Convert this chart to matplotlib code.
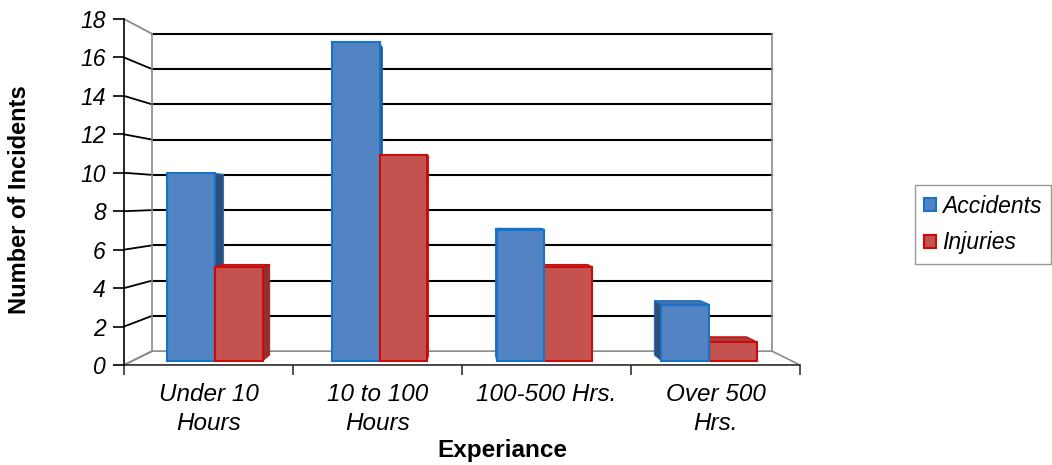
import matplotlib
matplotlib.use("Agg")
import matplotlib.pyplot as plt
from matplotlib.patches import Polygon, Patch

plt.rcParams['font.family'] = ['Liberation Sans', 'DejaVu Sans']

categories = ['Under 10\nHours', '10 to 100\nHours', '100-500 Hrs.', 'Over 500\nHrs.']
accidents = [10, 17, 7, 3]
injuries = [5, 11, 5, 1]
series_names = ['Accidents', 'Injuries']
y_ticks = [0, 2, 4, 6, 8, 10, 12, 14, 16, 18]

# colours: front, edge, side, top
blue = ('#5283C2', '#1872C6', '#2E4D77', '#4673AD')
red = ('#C4534F', '#CC0A0A', '#8A3331', '#A7403D')

# fake perspective (vanishing point in data coords)
VX, VY, K = 2.0, 8.7, 0.083
T0, T1 = 0.3, 0.72
W = 0.29


def proj(x, y, t):
    s = 1 - K * t
    return VX + (x - VX) * s, VY + (y - VY) * s


fig = plt.figure(figsize=(10.52, 4.65), dpi=100)
ax = fig.add_axes([124 / 1052, 100 / 465, 676 / 1052, 346 / 465])
ax.set_xlim(0, 4)
ax.set_ylim(0, 18)
for s in ['top', 'right', 'bottom']:
    ax.spines[s].set_visible(False)
ax.spines['left'].set_color('black')
ax.spines['left'].set_linewidth(1.2)

# floor
fl = [proj(0, 0, 0), proj(4, 0, 0), proj(4, 0, 1), proj(0, 0, 1)]
ax.add_patch(Polygon(fl, closed=True, facecolor='white', edgecolor='#8a8a8a', lw=1.2, zorder=1))
ax.plot([0, 4], [0, 0], color='#333333', lw=1.2, zorder=2, clip_on=False)

# back wall grid + side wall lines
for v in y_ticks:
    bx0, by = proj(0, v, 1)
    bx1, _ = proj(4, v, 1)
    c = '#8a8a8a' if v in (0, 18) else 'black'
    if v > 0:
        ax.plot([bx0, bx1], [by, by], color='black', lw=1.5, zorder=1.5, clip_on=False)
    ax.plot([0, bx0], [v, by], color=c, lw=1.3, zorder=1.5, clip_on=False)
for xe in (0, 4):
    x0, y0 = proj(xe, 0, 1)
    _, y1 = proj(xe, 18, 1)
    ax.plot([x0, x0], [y0, y1], color='#8a8a8a', lw=1.2, zorder=1.5, clip_on=False)

# bars
bars = []
for i in range(len(categories)):
    bars.append((i + 0.5 - W, accidents[i], blue))
    bars.append((i + 0.5, injuries[i], red))
bars.sort(key=lambda b: -abs(b[0] + W / 2 - VX))

z = 3
for left, val, col in bars:
    right = left + W
    fx0, fy0 = proj(left, 0, T0)
    fx1, fy1 = proj(right, val, T0)
    # side face
    if right < VX:
        side = [proj(right, 0, T0), proj(right, 0, T1), proj(right, val, T1), proj(right, val, T0)]
    else:
        side = [proj(left, 0, T0), proj(left, 0, T1), proj(left, val, T1), proj(left, val, T0)]
    ax.add_patch(Polygon(side, closed=True, facecolor=col[2], edgecolor=col[1], lw=0.6, zorder=z))
    if val < VY:
        top = [proj(left, val, T0), proj(right, val, T0), proj(right, val, T1), proj(left, val, T1)]
        ax.add_patch(Polygon(top, closed=True, facecolor=col[3], edgecolor=col[1], lw=1.0, zorder=z))
    ax.bar(fx0, fy1 - fy0, width=fx1 - fx0, bottom=fy0, align='edge',
           facecolor=col[0], edgecolor=col[1], lw=1.5, zorder=z + 0.5)
    z += 1

# ticks
ax.set_yticks(y_ticks)
ax.set_yticklabels([str(v) for v in y_ticks], fontsize=16.5, style='italic')
ax.tick_params(axis='y', direction='out', length=8, width=1.2, pad=5)
ax.set_xticks([0, 1, 2, 3, 4])
ax.set_xticklabels([])
ax.tick_params(axis='x', which='major', direction='out', length=7, width=1.2, color='#333333')
ax.set_xticks([0.5, 1.5, 2.5, 3.5], minor=True)
ax.set_xticklabels(categories, minor=True, fontsize=17.5, style='italic', linespacing=1.35)
ax.tick_params(axis='x', which='minor', length=0, pad=13)

fig.text(20 / 1052, 1 - 200 / 465, 'Number of Incidents', rotation=90, fontsize=17,
         fontweight='bold', ha='center', va='center')
fig.text(502 / 1052, 1 - 450 / 465, 'Experiance', fontsize=17.5, fontweight='bold',
         ha='center', va='center')

handles = [Patch(facecolor=blue[0], edgecolor=blue[1], lw=1.5),
           Patch(facecolor=red[0], edgecolor=red[1], lw=1.5)]
leg = fig.legend(handles, series_names, loc='center', bbox_to_anchor=(983 / 1052, 1 - 224.5 / 465),
                 fancybox=False, edgecolor='#808080', prop={'size': 16.5, 'style': 'italic'},
                 handlelength=0.5, handleheight=0.5, handletextpad=0.3, labelspacing=0.6,
                 borderpad=0.4, borderaxespad=0)
leg.get_frame().set_linewidth(1.0)

fig.savefig('out.png', dpi=100)
